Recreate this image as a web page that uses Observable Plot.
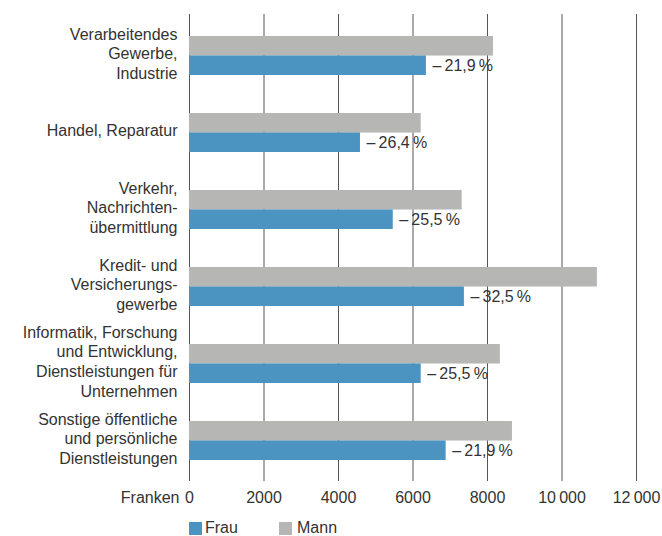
<!DOCTYPE html>
<html>
<head>
<meta charset="utf-8">
<script src="https://cdn.jsdelivr.net/npm/d3@7"></script>
<script src="https://cdn.jsdelivr.net/npm/@observablehq/plot@0.6"></script>
<style>
  body { margin: 0; background: #fff; font-family: "Liberation Sans", Arial, sans-serif; color: #333; }
  #legend { display: flex; gap: 0; margin-left: 189px; margin-top: 10px; font-size: 16px; line-height: 16px; }
  .item { display: flex; align-items: center; }
  .sw { width: 13px; height: 13px; margin-right: 3px; }
</style>
</head>
<body>
<div id="chart"></div>
<div id="legend"></div>
<script>
const categories = [
  "Verarbeitendes\nGewerbe,\nIndustrie",
  "Handel, Reparatur",
  "Verkehr,\nNachrichten-\nübermittlung",
  "Kredit- und\nVersicherungs-\ngewerbe",
  "Informatik, Forschung\nund Entwicklung,\nDienstleistungen für\nUnternehmen",
  "Sonstige öffentliche\nund persönliche\nDienstleistungen"
];
const frau = [6360, 4590, 5470, 7380, 6220, 6890];
const mann = [8160, 6220, 7320, 10950, 8345, 8670];
const gapLabels = ["–\u200921,9\u2009%", "–\u200926,4\u2009%", "–\u200925,5\u2009%", "–\u200932,5\u2009%", "–\u200925,5\u2009%", "–\u200921,9\u2009%"];
const xTicks = [0, 2000, 4000, 6000, 8000, 10000, 12000];
const seriesNames = ["Frau", "Mann"];
const colors = ["#4b94c2", "#b6b6b4"];

const data = categories.map((c, i) => ({cat: c, frau: frau[i], mann: mann[i], label: gapLabels[i]}));

const height = 510, marginTop = 14, marginBottom = 29;
const step = (height - marginTop - marginBottom) / categories.length;
const bw = step * 0.5;

const fmt = v => v >= 10000 ? d3.format(",")(v).replace(/,/g, "\u2009") : String(v);

const chart = Plot.plot({
  width: 662,
  height,
  marginLeft: 189,
  marginRight: 26,
  marginTop,
  marginBottom,
  style: {fontFamily: "'Liberation Sans', Arial, sans-serif", fontSize: "16px", color: "#333"},
  x: {domain: [0, 12000]},
  y: {domain: categories, paddingInner: 0.5, paddingOuter: 0.25},
  marks: [
    Plot.ruleX(xTicks, {stroke: "#555", strokeWidth: 1}),
    Plot.barX(data, {x: "mann", y: "cat", fill: colors[1], insetBottom: bw / 2}),
    Plot.barX(data, {x: "frau", y: "cat", fill: colors[0], insetTop: bw / 2}),
    Plot.text(data, {x: "frau", y: "cat", text: "label", dx: 6, dy: bw / 4, textAnchor: "start", fill: "#333", fontSize: 16}),
    Plot.axisX(xTicks, {tickSize: 0, tickPadding: 10, tickFormat: fmt, fontSize: 16, fill: "#333"}),
    Plot.axisX([0], {tickSize: 0, tickPadding: 10, tickFormat: () => "Franken", textAnchor: "end", dx: -10, fontSize: 16, fill: "#333"}),
    Plot.axisY({tickSize: 0, tickPadding: 12, dy: -3, lineHeight: 1.23, fontSize: 16, fill: "#333", label: null})
  ]
});
document.getElementById("chart").appendChild(chart);

const legend = document.getElementById("legend");
seriesNames.forEach((n, i) => {
  const it = document.createElement("div");
  it.className = "item";
  it.style.width = i === 0 ? "90px" : "auto";
  const sw = document.createElement("div");
  sw.className = "sw";
  sw.style.background = colors[i];
  if (i === 1) sw.style.marginRight = "5px";
  const t = document.createElement("span");
  t.textContent = n;
  it.appendChild(sw); it.appendChild(t);
  legend.appendChild(it);
});
</script>
</body>
</html>
